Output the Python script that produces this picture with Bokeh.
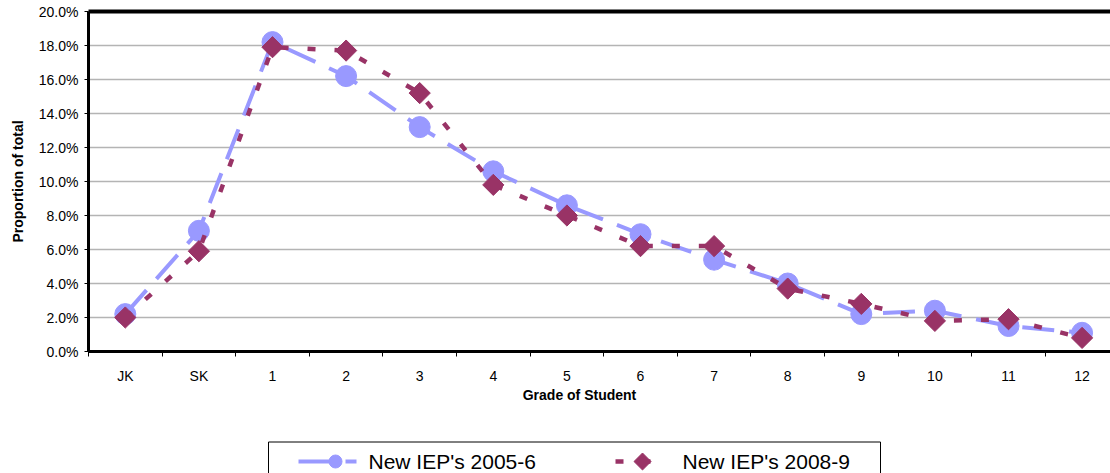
import numpy as np
from bokeh.plotting import figure
from bokeh.layouts import column
from bokeh.models import Range1d, LinearAxis, FixedTicker, NumeralTickFormatter
from bokeh.core.properties import value
from bokeh.embed import file_html
from bokeh.resources import INLINE

# Share of new IEPs by grade (percent of all new IEPs in the year)
grades = ["JK", "SK", "1", "2", "3", "4", "5", "6", "7", "8", "9", "10", "11", "12"]
iep_2005_6 = [2.2, 7.1, 18.2, 16.2, 13.2, 10.6, 8.6, 6.9, 5.4, 4.0, 2.2, 2.4, 1.5, 1.1]
iep_2008_9 = [2.0, 5.9, 17.9, 17.7, 15.2, 9.8, 8.0, 6.2, 6.2, 3.7, 2.8, 1.8, 1.9, 0.8]
series_names = ["New IEP's 2005-6", "New IEP's 2008-9"]
y_ticks = [0.0, 0.02, 0.04, 0.06, 0.08, 0.10, 0.12, 0.14, 0.16, 0.18, 0.20]

FONT = "Liberation Sans"
BLUE = "#9999FF"
PLUM = "#993366"
BLUE_DASH = "32 15"
PLUM_DASH = "8 19"

x = np.arange(len(grades))
y1 = np.array(iep_2005_6) / 100.0
y2 = np.array(iep_2008_9) / 100.0

LEFT = 88      # left border shared by both stacked figures
WIDTH = 1110

# ---------------- main chart ----------------
p = figure(width=WIDTH, height=386, output_backend="svg", toolbar_location=None,
           x_range=Range1d(-0.5, 13.386), y_range=Range1d(0, 0.20),
           min_border_left=LEFT, min_border_right=0, min_border_top=11, min_border_bottom=35)
p.outline_line_color = None
p.background_fill_color = "white"
p.border_fill_color = "white"

# x axis: labels at category centres, tick marks between categories
xa = p.xaxis[0]
xa.ticker = FixedTicker(ticks=list(range(len(grades))),
                        minor_ticks=[k - 0.5 for k in range(len(grades) + 1)])
xa.major_label_overrides = {i: g for i, g in enumerate(grades)}
xa.major_tick_line_color = None
xa.major_tick_out = 5
xa.major_tick_in = 0
xa.minor_tick_out = 5
xa.minor_tick_in = 0
xa.minor_tick_line_color = "black"
xa.minor_tick_line_width = 1
xa.axis_line_width = 3
xa.axis_line_color = "black"
xa.major_label_standoff = 11
xa.major_label_text_font = FONT
xa.major_label_text_font_size = "14px"
xa.major_label_text_color = "black"

ya = p.yaxis[0]
ya.ticker = FixedTicker(ticks=y_ticks)
ya.formatter = NumeralTickFormatter(format="0.0%")
ya.axis_line_width = 3
ya.axis_line_color = "black"
ya.major_tick_out = 4
ya.major_tick_in = 0
ya.major_tick_line_width = 1
ya.minor_tick_line_color = None
ya.major_label_standoff = 6
ya.major_label_text_font = FONT
ya.major_label_text_font_size = "14px"
ya.major_label_text_color = "black"
ya.axis_label = "Proportion of total"
ya.axis_label_text_font = FONT
ya.axis_label_text_font_style = "bold"
ya.axis_label_text_font_size = "14px"
ya.axis_label_text_color = "black"
ya.axis_label_standoff = 10

# heavy top border
top = LinearAxis(ticker=FixedTicker(ticks=[]), major_label_text_font_size="0px",
                 axis_line_width=4, axis_line_color="black",
                 major_tick_line_color=None, minor_tick_line_color=None)
p.add_layout(top, "above")

p.xgrid.visible = False
p.ygrid.ticker = FixedTicker(ticks=y_ticks[1:-1])
p.ygrid.grid_line_color = "#b4b4b4"
p.ygrid.grid_line_width = 1.5

p.line(x, y1, line_color=BLUE, line_width=4, line_dash=BLUE_DASH)
p.scatter(x, y1, marker="circle", size=21, fill_color=BLUE, line_color=BLUE)
p.line(x, y2, line_color=PLUM, line_width=4.5, line_dash=PLUM_DASH)
p.scatter(x, y2, marker="square", angle=np.pi / 4, size=15,
          fill_color=PLUM, line_color=PLUM)

# ---------------- axis title + legend strip ----------------
# page-pixel coordinates (y grows downward) for the strip under the chart;
# the strip's frame is aligned with the chart frame, so it starts at LEFT
H2 = 87
q = figure(width=WIDTH, height=H2, output_backend="svg", toolbar_location=None,
           x_range=Range1d(LEFT, WIDTH), y_range=Range1d(H2, 0),
           x_axis_location=None, y_axis_location=None,
           min_border_left=LEFT, min_border_right=0,
           min_border_top=0, min_border_bottom=0)
q.outline_line_color = None
q.grid.visible = False
q.background_fill_color = "white"
q.border_fill_color = "white"

q.text(x=[579], y=[8], text=["Grade of Student"], text_align="center",
       text_baseline="middle", text_font=value(FONT), text_font_style="bold",
       text_font_size="14px", text_color="black")

# legend frame (bottom edge falls below the page)
q.quad(left=[268], right=[880], top=[55.5], bottom=[100], fill_color="white",
       line_color="black", line_width=1)

ly = 75
q.line([298, 356], [ly, ly], line_color=BLUE, line_width=4, line_dash=BLUE_DASH)
q.scatter([335], [ly], marker="circle", size=13, fill_color=BLUE, line_color=BLUE)
q.line([615, 668], [ly, ly], line_color=PLUM, line_width=4.5, line_dash=PLUM_DASH)
q.scatter([642], [ly], marker="square", angle=np.pi / 4, size=12,
          fill_color=PLUM, line_color=PLUM)
q.text(x=[368, 682], y=[ly, ly], text=series_names, text_align="left",
       text_baseline="middle", text_font=value(FONT), text_font_size="21px",
       text_color="black")

layout = column(p, q, spacing=0)
open("out.html", "w").write(file_html(layout, INLINE))
